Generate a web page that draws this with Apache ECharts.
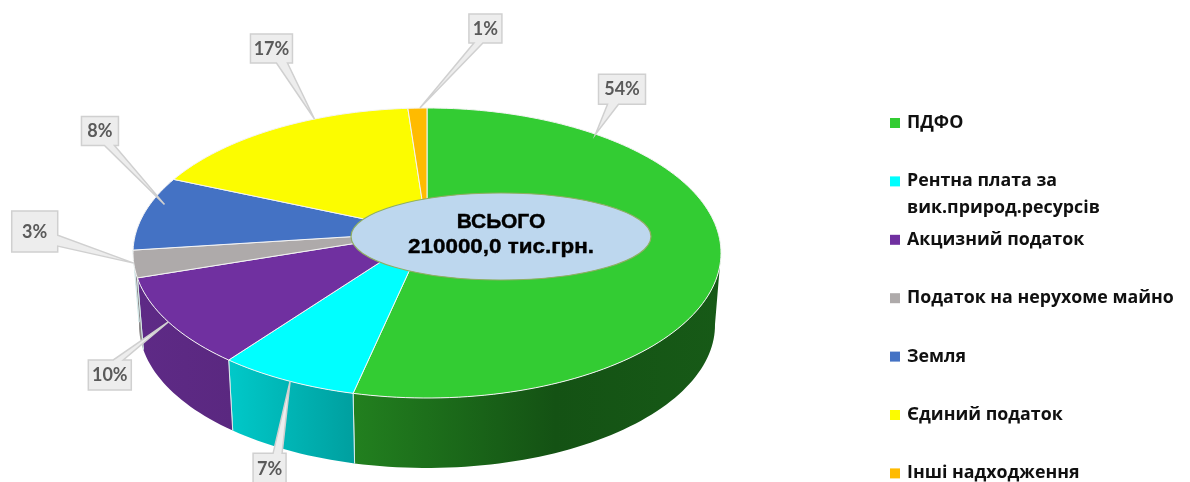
<!DOCTYPE html>
<html>
<head>
<meta charset="utf-8">
<style>html,body{margin:0;padding:0;background:#fff}#c{width:1190px;height:482px}</style>
<script src="https://cdn.jsdelivr.net/npm/echarts@6/dist/echarts.min.js"></script>
</head>
<body>
<div id="c"></div>
<script>
// --- data ---
var categories = ['ПДФО', 'Рентна плата за\nвик.природ.ресурсів', 'Акцизний податок', 'Податок на нерухоме майно', 'Земля', 'Єдиний податок', 'Інші надходження'];
var shares = [53.5, 6.8, 9.7, 3.0, 8.4, 17.4, 1.2];
var totalTitle = 'ВСЬОГО';
var totalValue = '210000,0 тис.грн.';

// --- styles ---
var topColors = ['#33cc33', '#00ffff', '#7030a0', '#aeaaaa', '#4472c4', '#fcfc00', '#ffbb00'];
var sideStops = [
  [[0, '#22801f'], [0.55, '#145214'], [1, '#175a17']],
  [[0, '#00c9c9'], [1, '#009f9f']],
  [[0, '#5e2a86'], [1, '#5a2880']],
  [[0, '#8c8888'], [1, '#8c8888']],
  [[0, '#30528f'], [1, '#30528f']],
  [[0, '#b0b000'], [1, '#b0b000']],
  [[0, '#b08500'], [1, '#b08500']]
];

// --- layout of the tilted pie ---
var TOP = {cx: 427, cy: 253, rx: 294, ry: 145};
var BOT = {cx: 427, cy: 325, rx: 288, ry: 143};
var PERSP = 0.145;                // how far the pie's true centre sits behind the ellipse centre
var SIDE_FROM = 98, SIDE_TO = 263; // visible part of the wall, degrees clockwise from 12 o'clock
var HUB = {cx: 501, cy: 236.5, rx: 150, ry: 43.5};
// callouts: where the tip sits inside its slice, tip radius, box relative to the tip, pointer base
var callouts = [
  {frac: 0.208, r: 1.00, box: [3, -60, 47, 30], edge: 'bottom', base: [12, 23]},
  {frac: 0.47, r: 1.00, box: [-37, 72, 33, 30], edge: 'top', base: [-17, -8]},
  {frac: 0.50, r: 1.00, box: [-80, 38, 43, 30], edge: 'top', base: [-55, -45]},
  {frac: 0.53, r: 1.00, box: [-122, -52, 46, 41], edge: 'right', base: [-28, -17]},
  {frac: 0.64, r: 0.95, box: [-83, -88, 37, 29], edge: 'bottom', base: [-60, -50]},
  {frac: 0.655, r: 1.00, box: [-64, -85, 42, 29], edge: 'bottom', base: [-38, -27]},
  {frac: 0.63, r: 1.00, box: [49, -94, 33, 29], edge: 'bottom', base: [54, 63]}
];
var LEGEND = {x: 890, y: 123, step: 58.4, box: 10, textX: 907, lineH: 27};

var TOTAL = shares.reduce(function (a, b) { return a + b; }, 0);
var cum = [0];
shares.forEach(function (v, i) { cum.push(cum[i] + v); });
function angleOf(share) { return share / TOTAL * 360; }
// projects a point of the flat disc (deg clockwise from top, r = 0..1) into a view ellipse
function project(e, deg, r) {
  var a = deg * Math.PI / 180, u = r * Math.sin(a), v = -r * Math.cos(a), c = PERSP;
  var d = 1 - c * v;
  return [e.cx + e.rx * u * Math.sqrt(1 - c * c) / d, e.cy + e.ry * (v - c) / d];
}
function arc(e, from, to) {
  var pts = [], n = Math.max(2, Math.ceil(Math.abs(to - from) / 1.5));
  for (var k = 0; k <= n; k++) pts.push(project(e, from + (to - from) * k / n, 1));
  return pts;
}

function renderSide(params, api) {
  var i = params.dataIndex;
  var a0 = angleOf(cum[i]), a1 = a0 + angleOf(api.value(0));
  var from = Math.max(a0, SIDE_FROM), to = Math.min(a1, SIDE_TO);
  if (to <= from) return {type: 'group', children: []};
  var pts = arc(TOP, from, to).concat(arc(BOT, to, from));
  var children = [{
    type: 'polygon', shape: {points: pts},
    style: {fill: new echarts.graphic.LinearGradient(0, 0, 1, 0, sideStops[i].map(function (s) { return {offset: s[0], color: s[1]}; }))}
  }];
  [[a0, from], [a1, to]].forEach(function (p) {
    if (p[0] === p[1]) children.push({
      type: 'line',
      shape: (function () { var t = project(TOP, p[0], 1), b = project(BOT, p[0], 1); return {x1: t[0], y1: t[1], x2: b[0], y2: b[1]}; })(),
      style: {stroke: '#d9ecec', lineWidth: 1}
    });
  });
  return {type: 'group', children: children};
}

function renderTop(params, api) {
  var i = params.dataIndex;
  var a0 = angleOf(cum[i]), a1 = a0 + angleOf(api.value(0));
  var pts = [project(TOP, 0, 0)].concat(arc(TOP, a0, a1));
  return {type: 'polygon', shape: {points: pts}, style: {fill: topColors[i], stroke: '#f4f4f4', lineWidth: 1, lineJoin: 'round'}};
}

function renderCallout(params, api) {
  var i = params.dataIndex, c = callouts[i];
  var a0 = angleOf(cum[i]), a1 = a0 + angleOf(api.value(0));
  var tip = project(TOP, a0 + (a1 - a0) * c.frac, c.r);
  var l = tip[0] + c.box[0], t = tip[1] + c.box[1], w = c.box[2], h = c.box[3], r = l + w, b = t + h;
  var pts;
  if (c.edge === 'bottom') pts = [[l, t], [r, t], [r, b], [tip[0] + c.base[1], b], tip, [tip[0] + c.base[0], b], [l, b]];
  else if (c.edge === 'top') pts = [[l, t], [tip[0] + c.base[0], t], tip, [tip[0] + c.base[1], t], [r, t], [r, b], [l, b]];
  else pts = [[l, t], [r, t], [r, tip[1] + c.base[0]], tip, [r, tip[1] + c.base[1]], [r, b], [l, b]];
  return {type: 'group', children: [
    {type: 'polygon', shape: {points: pts}, style: {fill: '#ededed', stroke: '#d0d0d0', lineWidth: 1.5, lineJoin: 'miter'}},
    {type: 'text', style: {text: Math.round(api.value(0)) + '%', x: l + w / 2, y: t + h / 2 + 0.5, align: 'center', verticalAlign: 'middle',
      fill: '#5a5a5a', font: 'bold 18px Lato, "Open Sans", sans-serif'}}
  ]};
}

function renderLegend(params) {
  var i = params.dataIndex, y = LEGEND.y + LEGEND.step * i;
  var lines = categories[i].split('\n');
  var children = [{type: 'rect', shape: {x: LEGEND.x, y: y - LEGEND.box / 2, width: LEGEND.box, height: LEGEND.box}, style: {fill: topColors[i]}}];
  lines.forEach(function (line, k) {
    children.push({type: 'text', style: {text: line, x: LEGEND.textX, y: y + k * LEGEND.lineH, align: 'left', verticalAlign: 'middle',
      fill: '#101010', font: 'bold 17.8px "Open Sans", "Noto Sans", sans-serif'}});
  });
  return {type: 'group', children: children};
}

function hubText(text, y, sx) {
  return {type: 'text', x: 501, y: y, scaleX: sx,
    style: {text: text, x: 0, y: 0, align: 'center', verticalAlign: 'middle', fill: '#000', stroke: '#000', lineWidth: 0.4,
      font: 'bold 20px "Liberation Sans", Arial, sans-serif'}};
}
function renderHub() {
  return {type: 'group', children: [
    {type: 'ellipse', shape: HUB, style: {fill: '#bdd7ee', stroke: '#8fae62', lineWidth: 1.2}},
    hubText(totalTitle, 222, 1.05),
    hubText(totalValue, 247, 1.12)
  ]};
}

function custom(name, z, fn, data) {
  return {type: 'custom', name: name, coordinateSystem: 'none', z: z, silent: true, animation: false, clip: false, renderItem: fn, data: data};
}
var rows = shares.map(function (v, i) { return {name: categories[i], value: [v]}; });
var chart = echarts.init(document.getElementById('c'), null, {renderer: 'canvas'});
chart.setOption({
  animation: false,
  backgroundColor: '#fff',
  tooltip: {show: false},
  series: [
    custom('side', 1, renderSide, rows),
    custom('top', 2, renderTop, rows),
    custom('hub', 3, renderHub, [[0]]),
    custom('callouts', 4, renderCallout, rows),
    custom('legend', 5, renderLegend, rows)
  ]
});
</script>
</body>
</html>
